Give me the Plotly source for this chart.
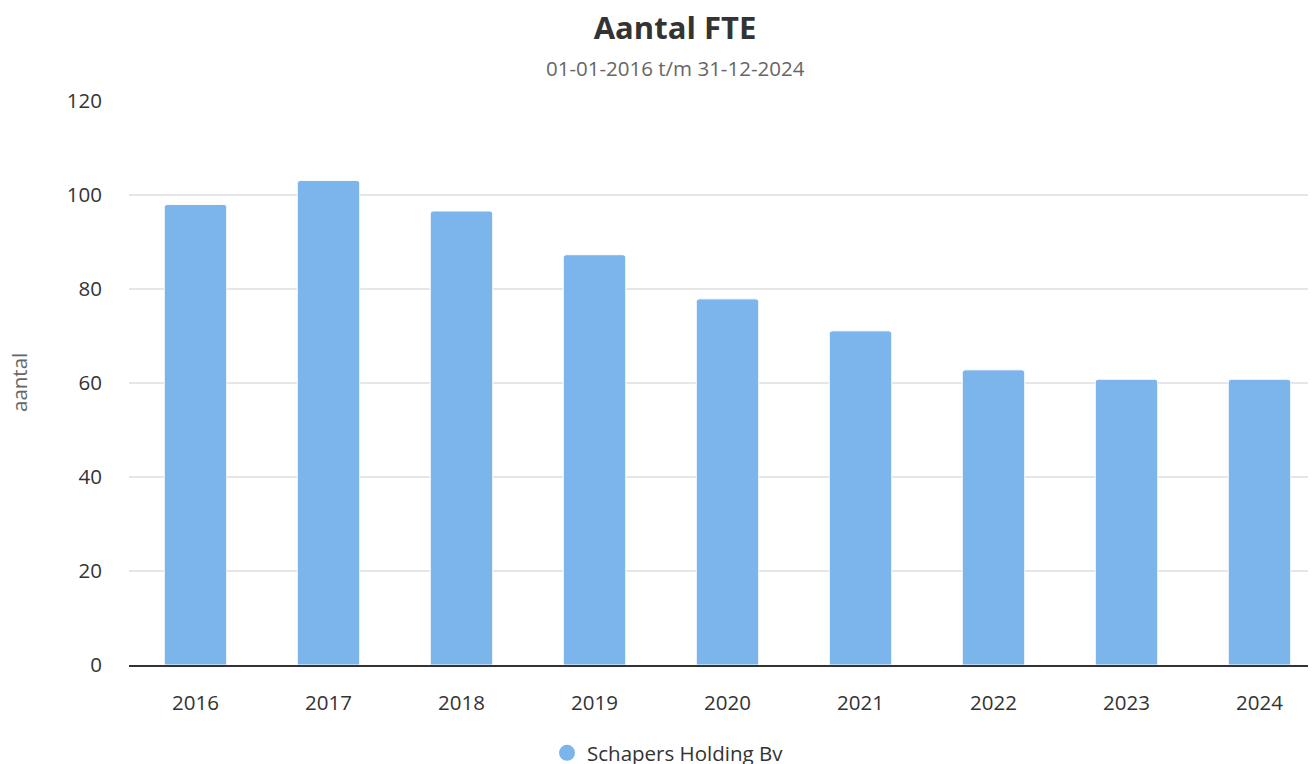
import plotly.graph_objects as go

years = ["2016", "2017", "2018", "2019", "2020", "2021", "2022", "2023", "2024"]
fte = [98.0, 103.1, 96.6, 87.3, 77.9, 71.1, 62.8, 60.8, 60.8]
series_name = "Schapers Holding Bv"
y_ticks = [0, 20, 40, 60, 80, 100, 120]

color = "#7cb5ec"
font = "Open Sans"

# page offset of the figure (body margin)
OFF = 8
W, H = 1334, 764
L, R, T, B = 121, 16, 93, 107
PW, PH = W - L - R, H - T - B


def px_x(x):
    return (x - OFF - L) / PW


def px_y(y):
    return (H - B - (y - OFF)) / PH


fig = go.Figure()
fig.add_trace(go.Bar(
    x=years, y=fte, name=series_name, showlegend=False,
    marker=dict(color=color, line=dict(color="white", width=1), cornerradius=3),
))
fig.add_trace(go.Scatter(
    x=[None], y=[None], mode="markers", name=series_name,
    marker=dict(symbol="circle", size=20, color=color),
))

fig.update_layout(
    width=W, height=H,
    margin=dict(l=L, r=R, t=T, b=B),
    paper_bgcolor="white", plot_bgcolor="white",
    font=dict(family=font, color="#333333", size=20.5),
    bargap=0.53,
    title=dict(text="<b>Aantal FTE</b>", x=(675 - OFF) / W, xref="container", xanchor="center",
               y=1 - (28 - OFF) / H, yref="container", yanchor="middle",
               font=dict(size=31, color="#333333", family=font)),
    showlegend=True,
    legend=dict(orientation="h", x=(668 - OFF) / W, xref="container", xanchor="center",
                y=(H - (753 - OFF)) / H, yref="container", yanchor="middle",
                font=dict(size=20.5, color="#333333")),
    xaxis=dict(showgrid=False, ticks="", ticklabelstandoff=19,
               showline=True, linecolor="#333333", linewidth=1.5,
               tickfont=dict(size=20.5, color="#333333")),
    yaxis=dict(range=[0, 120], tickvals=y_ticks, showgrid=True, gridcolor="#e6e6e6",
               gridwidth=1.5, zeroline=False, showline=False, ticks="",
               ticklabelstandoff=26, tickfont=dict(size=20.5, color="#333333")),
    annotations=[
        dict(text="01-01-2016 t/m 31-12-2024", x=px_x(675), xref="paper", xanchor="center",
             y=px_y(68), yref="paper", yanchor="middle", showarrow=False,
             font=dict(size=20.5, color="#666666", family=font)),
        dict(text="aantal", x=px_x(19), xref="paper", xanchor="center",
             y=px_y(383), yref="paper", yanchor="middle", showarrow=False,
             textangle=-90, font=dict(size=20.5, color="#666666", family=font)),
    ],
)

fig.write_html(
    "out.html",
    post_script="document.documentElement.style.overflow='hidden';"
                "document.body.style.overflow='hidden';",
)
